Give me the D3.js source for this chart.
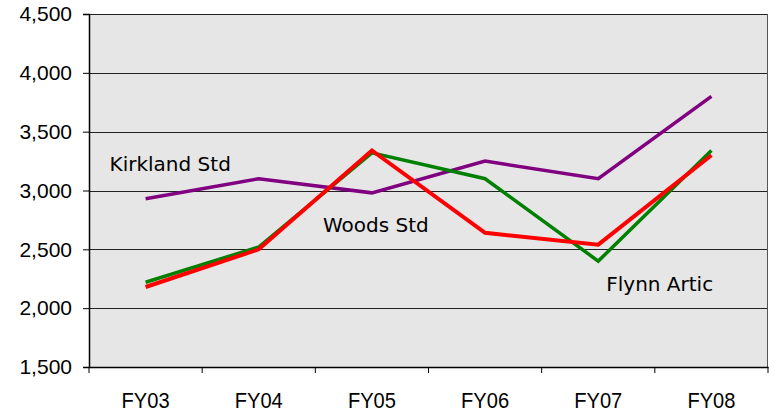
<!DOCTYPE html>
<html>
<head>
<meta charset="utf-8">
<script src="https://cdn.jsdelivr.net/npm/d3@7"></script>
<style>
  body { margin: 0; background: #fff; }
  svg { display: block; }
  .axis text { font-family: "Liberation Sans", Arial, sans-serif; font-size: 21px; fill: #000; }
  .x-axis text { font-size: 22px; }
  .series-label { font-family: "DejaVu Sans", sans-serif; font-size: 20px; fill: #000; }
</style>
</head>
<body>
<div id="chart"></div>
<script>
const categories = ["FY03", "FY04", "FY05", "FY06", "FY07", "FY08"];
const kirkland = [2930, 3100, 2980, 3250, 3100, 3800];
const flynn = [2220, 2520, 3320, 3100, 2400, 3340];
const woods = [2180, 2500, 3340, 2640, 2540, 3300];
const yTicks = [1500, 2000, 2500, 3000, 3500, 4000, 4500];

const series = [
  { name: "Kirkland Std", values: kirkland, color: "#800080", width: 3.5 },
  { name: "Flynn Artic", values: flynn, color: "#008000", width: 3.5 },
  { name: "Woods Std", values: woods, color: "#ff0000", width: 4 }
];

const width = 769, height = 414;
const margin = { top: 14, right: 1, bottom: 47, left: 89 };
const innerW = width - margin.left - margin.right;
const innerH = height - margin.top - margin.bottom;

const svg = d3.select("#chart").append("svg")
  .attr("width", width)
  .attr("height", height);

const g = svg.append("g")
  .attr("transform", `translate(${margin.left},${margin.top})`);

const x = d3.scaleBand().domain(categories).range([0, innerW]);
const y = d3.scaleLinear().domain([1500, 4500]).range([innerH, 0]);

// plot background
g.append("rect")
  .attr("width", innerW)
  .attr("height", innerH)
  .attr("fill", "#e6e6e6");

// gridlines
g.selectAll(".grid")
  .data(yTicks)
  .enter()
  .append("line")
  .attr("class", "grid")
  .attr("x1", 0)
  .attr("x2", innerW)
  .attr("y1", (d) => Math.round(y(d)) + 0.5)
  .attr("y2", (d) => Math.round(y(d)) + 0.5)
  .attr("stroke", "#222")
  .attr("stroke-width", 1);

// right border
g.append("line")
  .attr("x1", innerW - 0.5).attr("x2", innerW - 0.5)
  .attr("y1", 0).attr("y2", innerH)
  .attr("stroke", "#555");

// y axis
const yAxis = g.append("g")
  .attr("class", "axis y-axis")
  .call(d3.axisLeft(y).tickValues(yTicks).tickFormat(d3.format(",")).tickSize(6).tickPadding(11));
yAxis.select(".domain").attr("stroke", "#000").attr("stroke-width", 1.5);
yAxis.selectAll(".tick line").attr("stroke", "#000");

// x axis: ticks at category boundaries
const xAxis = g.append("g")
  .attr("class", "axis x-axis")
  .attr("transform", `translate(0,${innerH})`)
  .call(d3.axisBottom(x).tickSize(0).tickPadding(25));
xAxis.select(".domain").attr("stroke", "#000").attr("stroke-width", 1.5);
// condensed look of the category labels
xAxis.selectAll(".tick text")
  .attr("textLength", 48)
  .attr("lengthAdjust", "spacingAndGlyphs");

const bounds = categories.map((c) => x(c)).concat([innerW]);
xAxis.selectAll(".bound")
  .data(bounds)
  .enter()
  .append("line")
  .attr("class", "bound")
  .attr("x1", (d) => d).attr("x2", (d) => d)
  .attr("y1", 0).attr("y2", 6)
  .attr("stroke", "#000");

// lines
const line = d3.line()
  .x((d, i) => x(categories[i]) + x.bandwidth() / 2)
  .y((d) => y(d));

g.selectAll(".series")
  .data(series)
  .enter()
  .append("path")
  .attr("class", "series")
  .attr("d", (d) => line(d.values))
  .attr("fill", "none")
  .attr("stroke", (d) => d.color)
  .attr("stroke-width", (d) => d.width)
  .attr("stroke-linejoin", "miter");

// series labels
const labels = [
  { text: "Kirkland Std", cat: "FY03", val: 3168, dx: -36 },
  { text: "Woods Std", cat: "FY05", val: 2650, dx: -49 },
  { text: "Flynn Artic", cat: "FY07", val: 2148, dx: 8 }
];
g.selectAll(".series-label")
  .data(labels)
  .enter()
  .append("text")
  .attr("class", "series-label")
  .attr("x", (d) => x(d.cat) + x.bandwidth() / 2 + d.dx)
  .attr("y", (d) => y(d.val))
  .text((d) => d.text);
</script>
</body>
</html>
